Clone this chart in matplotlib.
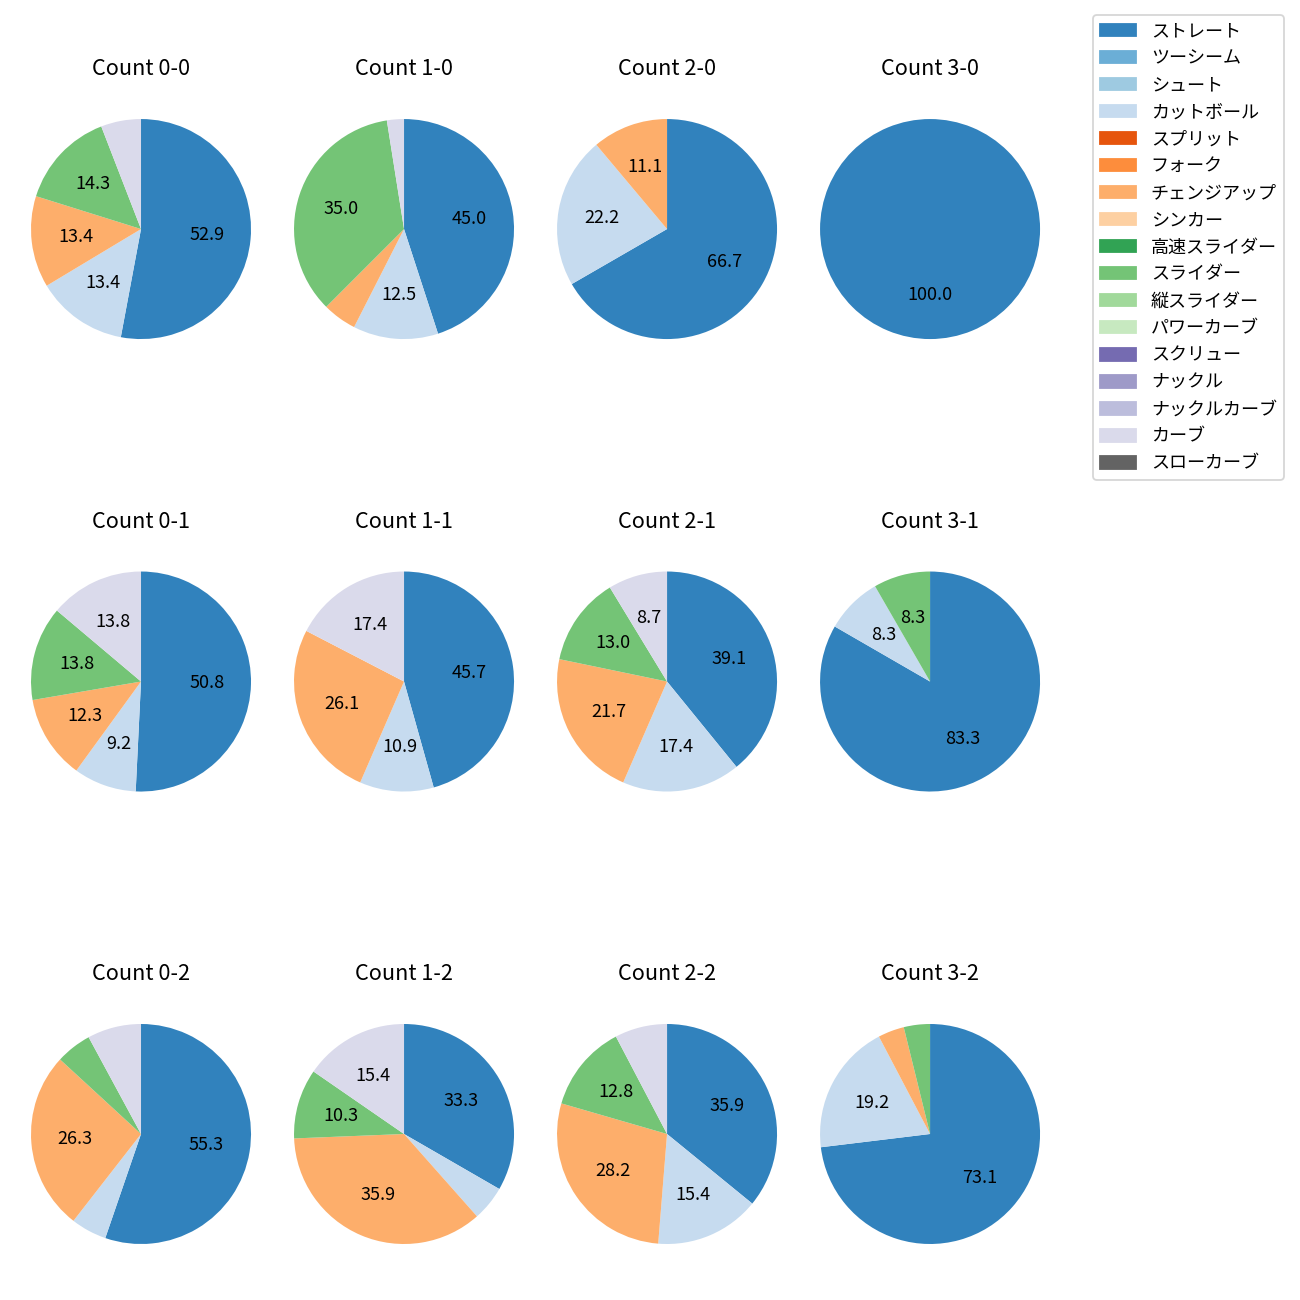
import matplotlib.pyplot as plt
from matplotlib.patches import Patch

plt.rcParams['font.family'] = ['Noto Sans CJK JP', 'DejaVu Sans']

pitch_types = ['ストレート', 'ツーシーム', 'シュート', 'カットボール', 'スプリット', 'フォーク',
               'チェンジアップ', 'シンカー', '高速スライダー', 'スライダー', '縦スライダー',
               'パワーカーブ', 'スクリュー', 'ナックル', 'ナックルカーブ', 'カーブ', 'スローカーブ']

counts = ['0-0', '1-0', '2-0', '3-0',
          '0-1', '1-1', '2-1', '3-1',
          '0-2', '1-2', '2-2', '3-2']

# pitches per count: ストレート, カットボール, チェンジアップ, スライダー, カーブ
straight = [63, 18, 6, 1, 33, 21, 9, 10, 21, 13, 14, 19]
cutter   = [16, 5, 2, 0, 6, 5, 4, 1, 2, 2, 6, 5]
changeup = [16, 2, 1, 0, 8, 12, 5, 0, 10, 14, 11, 1]
slider   = [17, 14, 0, 0, 9, 0, 3, 1, 2, 4, 5, 1]
curve    = [7, 1, 0, 0, 9, 8, 2, 0, 3, 6, 3, 0]

colors = plt.get_cmap('tab20c').colors
color_map = {name: colors[i] for i, name in enumerate(pitch_types)}

series = {'ストレート': straight, 'カットボール': cutter, 'チェンジアップ': changeup,
          'スライダー': slider, 'カーブ': curve}

fig, axes = plt.subplots(3, 4, figsize=(10, 10), dpi=130)
fig.subplots_adjust(left=0.0027, right=0.8212, top=0.9296, bottom=0.0219,
                    wspace=-0.0436, hspace=0.645)

for i, ax in enumerate(axes.flat):
    names = [n for n in pitch_types if n in series and series[n][i] > 0]
    vals = [series[n][i] for n in names]
    ax.pie(vals, colors=[color_map[n] for n in names], startangle=90,
           counterclock=False,
           autopct=lambda p: f'{p:.1f}' if p >= 8 else '')
    ax.set_title('Count ' + counts[i], pad=9)

handles = [Patch(color=color_map[n], label=n) for n in pitch_types]
fig.legend(handles=handles, loc='upper right', bbox_to_anchor=(0.9877, 0.9885),
           borderaxespad=0)

plt.savefig('out.png')
